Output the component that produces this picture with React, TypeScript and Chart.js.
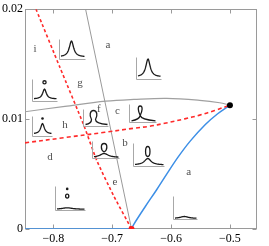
import React, { useEffect, useRef } from "react";
import { Chart, registerables } from "chart.js";
Chart.register(...registerables);

// axes
const xRange = [-0.848, -0.454];
const yRange = [0, 0.02];
const xTicks = [-0.8, -0.7, -0.6, -0.5];
const yTicks = [0, 0.01, 0.02];

// boundary curves
const blueBaseX = [-0.848, -0.6671];
const blueBaseY = [0, 0];
const blueX = [-0.6671, -0.6632, -0.6434, -0.6247, -0.6068, -0.5881, -0.5671, -0.5417, -0.5208, -0.5];
const blueY = [0, 0.00043, 0.00207, 0.00355, 0.00504, 0.00654, 0.00802, 0.00951, 0.01049, 0.01127];

const redSteepX = [-0.8293, -0.7886, -0.748, -0.7259, -0.6971, -0.6671];
const redSteepY = [0.02, 0.01469, 0.00942, 0.00621, 0.00299, 0];

const redFlatX = [-0.848, -0.7802, -0.7124, -0.6615, -0.6361, -0.6107, -0.5768, -0.5514, -0.526, -0.5];
const redFlatY = [0.00784, 0.00832, 0.0088, 0.00918, 0.00935, 0.00962, 0.01002, 0.01036, 0.01078, 0.01127];

const greyLineX = [-0.7451, -0.6671];
const greyLineY = [0.02, 0];

const greyArcX = [-0.848, -0.7802, -0.7107, -0.6632, -0.6073, -0.5514, -0.5175, -0.5];
const greyArcY = [0.01067, 0.01116, 0.01163, 0.01179, 0.01189, 0.01171, 0.01149, 0.01127];

const endPointX = [-0.5];
const endPointY = [0.01127];
const originPointX = [-0.6671];
const originPointY = [0];

// region letters
const regionLabels = ["a", "i", "g", "c", "f", "h", "b", "d", "e", "a"];
const regionX = [-0.7073, -0.831, -0.7547, -0.6912, -0.7225, -0.7802, -0.6783, -0.8056, -0.6954, -0.57];
const regionY = [0.01674, 0.01638, 0.01326, 0.01071, 0.01094, 0.00948, 0.00781, 0.00654, 0.0043, 0.0052];

// inset anchors (lower-left corner of each little frame) and the kind of profile shown
const insetKinds = ["peak", "peakRing", "peak", "knot", "bulb", "peakDot", "drop", "oval", "dots", "flat"];
const insetX = [-0.7898, -0.8366, -0.6593, -0.6712, -0.7492, -0.8356, -0.7349, -0.6654, -0.7971, -0.5966];
const insetY = [0.01543, 0.01163, 0.01362, 0.00975, 0.00936, 0.00844, 0.00647, 0.00573, 0.00177, 0.00088];

// inset frame sizes in px (layout, not data)
const INSET_W = [26, 25, 25, 27, 25, 20, 27, 31, 30, 24];
const INSET_H = [20, 22, 22, 18, 17, 20, 17, 23, 24, 23];

const pts = (xs: number[], ys: number[]) => xs.map((x, i) => ({ x, y: ys[i] }));

const fmt = (v: number) => {
  if (v === 0) return "0";
  const s = Math.abs(v).toString();
  return (v < 0 ? "\u2212" : "") + s;
};

const SERIF = "'Liberation Serif', 'Times New Roman', serif";
const FRAME = "#9a9a9a";

const framePlugin = {
  id: "frame",
  beforeDatasetsDraw(chart: any) {
    const { ctx, chartArea: a, scales } = chart;
    ctx.save();
    ctx.strokeStyle = FRAME;
    ctx.lineWidth = 1;
    const l = Math.round(a.left) + 0.5, r = Math.round(a.right) - 0.5;
    const t = Math.round(a.top) + 0.5, b = Math.round(a.bottom) - 0.5;
    ctx.strokeRect(l, t, r - l, b - t);
    ctx.beginPath();
    xTicks.forEach((v) => {
      const p = Math.round(scales.x.getPixelForValue(v)) + 0.5;
      ctx.moveTo(p, b); ctx.lineTo(p, b - 4);
      ctx.moveTo(p, t); ctx.lineTo(p, t + 4);
    });
    yTicks.forEach((v) => {
      const p = Math.round(scales.y.getPixelForValue(v)) + 0.5;
      ctx.moveTo(l, p); ctx.lineTo(l + 4, p);
      ctx.moveTo(r, p); ctx.lineTo(r - 4, p);
    });
    ctx.stroke();
    ctx.restore();
  },
};

function lorentz(ctx: CanvasRenderingContext2D, x0: number, y0: number, w: number, xc: number, base: number, amp: number, g: number) {
  ctx.beginPath();
  const n = 60;
  for (let i = 0; i <= n; i++) {
    const x = x0 + 1.5 + ((w - 2.5) * i) / n;
    const y = y0 - base - amp / (1 + ((x - xc) / g) ** 2);
    if (i === 0) ctx.moveTo(x, y); else ctx.lineTo(x, y);
  }
  ctx.stroke();
}

function drawInset(ctx: CanvasRenderingContext2D, kind: string, x0: number, y0: number, w: number, h: number) {
  ctx.save();
  ctx.strokeStyle = "#a8a8a8";
  ctx.lineWidth = 1;
  ctx.beginPath();
  ctx.moveTo(x0, y0 - h);
  ctx.lineTo(x0, y0);
  ctx.lineTo(x0 + w, y0);
  ctx.stroke();
  ctx.strokeStyle = "#1a1a1a";
  ctx.fillStyle = "#1a1a1a";
  ctx.lineWidth = 1.3;
  if (kind === "peak") {
    lorentz(ctx, x0, y0, w, x0 + 0.46 * w, 2.5, h - 4, 2.6);
  } else if (kind === "peakRing") {
    const xc = x0 + 0.48 * w;
    lorentz(ctx, x0, y0, w, xc, 2.5, 0.45 * h, 2.2);
    ctx.beginPath();
    ctx.arc(xc, y0 - 0.87 * h, 1.6, 0, Math.PI * 2);
    ctx.stroke();
  } else if (kind === "peakDot") {
    const xc = x0 + 0.5 * w;
    lorentz(ctx, x0, y0, w, xc, 2.5, 0.52 * h, 2.2);
    ctx.beginPath();
    ctx.arc(xc, y0 - 0.9 * h, 1.3, 0, Math.PI * 2);
    ctx.fill();
  } else if (kind === "knot") {
    const xc = x0 + 10.7;
    ctx.beginPath();
    ctx.moveTo(x0 + 2, y0 - 1.6);
    ctx.quadraticCurveTo(xc - 1, y0 - 3, xc, y0 - 7);
    ctx.bezierCurveTo(xc + 2, y0 - 11, xc + 3, y0 - 16.5, xc, y0 - 16.5);
    ctx.bezierCurveTo(xc - 3, y0 - 16.5, xc - 2, y0 - 11, xc, y0 - 7);
    ctx.quadraticCurveTo(xc + 1, y0 - 3, x0 + w - 1, y0 - 1.6);
    ctx.stroke();
  } else if (kind === "bulb") {
    const xc = x0 + 10;
    ctx.beginPath();
    ctx.moveTo(x0 + 2, y0 - 2);
    ctx.quadraticCurveTo(xc - 2, y0 - 3, xc - 2, y0 - 7);
    ctx.bezierCurveTo(xc - 4.5, y0 - 11, xc - 3.5, y0 - 16, xc, y0 - 16);
    ctx.bezierCurveTo(xc + 3.5, y0 - 16, xc + 4.5, y0 - 11, xc + 2, y0 - 7);
    ctx.quadraticCurveTo(xc + 2, y0 - 3, x0 + w - 1, y0 - 2);
    ctx.stroke();
  } else if (kind === "drop") {
    const xc = x0 + 11.6;
    lorentz(ctx, x0, y0, w, xc, 1, 4, 5);
    ctx.beginPath();
    ctx.moveTo(xc, y0 - 6.5);
    ctx.bezierCurveTo(xc - 3.8, y0 - 8.5, xc - 3.5, y0 - 15, xc, y0 - 15);
    ctx.bezierCurveTo(xc + 3.5, y0 - 15, xc + 3.8, y0 - 8.5, xc, y0 - 6.5);
    ctx.stroke();
  } else if (kind === "oval") {
    const xc = x0 + 0.46 * w;
    lorentz(ctx, x0, y0, w, xc, 1.5, 6.5, 4);
    ctx.beginPath();
    ctx.ellipse(xc, y0 - 15, 2.2, 5, 0, 0, Math.PI * 2);
    ctx.stroke();
  } else if (kind === "dots") {
    const xc = x0 + 0.39 * w;
    lorentz(ctx, x0, y0, w, xc, 1.2, 1.5, 6);
    ctx.beginPath();
    ctx.arc(xc, y0 - 0.9 * h, 1.3, 0, Math.PI * 2);
    ctx.fill();
    ctx.beginPath();
    ctx.ellipse(xc, y0 - 0.6 * h, 1.6, 2, 0, 0, Math.PI * 2);
    ctx.stroke();
  } else if (kind === "flat") {
    lorentz(ctx, x0, y0, w, x0 + 0.45 * w, 1, 2, 5);
  }
  ctx.restore();
}

const annotPlugin = {
  id: "annot",
  afterDatasetsDraw(chart: any) {
    const { ctx, scales } = chart;
    ctx.save();
    insetKinds.forEach((k, i) => {
      const x0 = Math.round(scales.x.getPixelForValue(insetX[i])) + 0.5;
      const y0 = Math.round(scales.y.getPixelForValue(insetY[i])) + 0.5;
      drawInset(ctx, k, x0, y0, INSET_W[i], INSET_H[i]);
    });
    ctx.font = "11px " + SERIF;
    ctx.fillStyle = "#505050";
    ctx.textAlign = "center";
    ctx.textBaseline = "middle";
    regionLabels.forEach((s, i) => {
      ctx.fillText(s, scales.x.getPixelForValue(regionX[i]), scales.y.getPixelForValue(regionY[i]));
    });
    ctx.restore();
  },
};

export default function App() {
  const ref = useRef<HTMLCanvasElement>(null);
  useEffect(() => {
    document.body.style.margin = "0";
    const line = (data: any, color: string, width: number, dash: number[] = [], tension = 0.35) => ({
      type: "scatter" as const,
      data,
      showLine: true,
      borderColor: color,
      borderWidth: width,
      borderDash: dash,
      pointRadius: 0,
      tension,
      fill: false,
    });
    const chart = new Chart(ref.current!, {
      type: "scatter",
      data: {
        datasets: [
          { type: "scatter", data: pts(endPointX, endPointY), pointRadius: 3, backgroundColor: "#000", borderColor: "#000", borderWidth: 0 } as any,
          { type: "scatter", data: pts(originPointX, originPointY), pointRadius: 3, backgroundColor: "#ff1a1a", borderColor: "#ff1a1a", borderWidth: 0 } as any,
          line(pts(redSteepX, redSteepY), "#ff2a2a", 1.6, [3, 2.5], 0.2),
          line(pts(redFlatX, redFlatY), "#ff2a2a", 1.6, [4, 3], 0.35),
          line(pts(blueBaseX, blueBaseY), "#3d8fe6", 1.5, [], 0),
          line(pts(blueX, blueY), "#3d8fe6", 1.5, [], 0.35),
          line(pts(greyLineX, greyLineY), "#9a9a9a", 1, [], 0),
          line(pts(greyArcX, greyArcY), "#a0a0a0", 1.2, [], 0.35),
        ],
      },
      options: {
        responsive: false,
        animation: false,
        devicePixelRatio: 1,
        layout: { padding: { top: 6, right: 12, left: 0, bottom: 0 } },
        plugins: { legend: { display: false }, tooltip: { enabled: false } },
        scales: {
          x: {
            type: "linear",
            min: xRange[0],
            max: xRange[1],
            grid: { display: false, drawTicks: false },
            border: { display: false },
            afterBuildTicks: (s: any) => { s.ticks = xTicks.map((v) => ({ value: v })); },
            afterFit: (s: any) => { s.height = 17; },
            ticks: {
              autoSkip: false,
              maxRotation: 0,
              padding: 3,
              color: "#000",
              font: { family: SERIF, size: 12 },
              callback: (v: any) => fmt(Number(v)),
            },
          },
          y: {
            type: "linear",
            min: yRange[0],
            max: yRange[1],
            grid: { display: false, drawTicks: false },
            border: { display: false },
            afterBuildTicks: (s: any) => { s.ticks = yTicks.map((v) => ({ value: v })); },
            afterFit: (s: any) => { s.width = 25; },
            ticks: {
              autoSkip: false,
              padding: 2,
              color: "#000",
              font: { family: SERIF, size: 12 },
              callback: (v: any) => fmt(Number(v)),
            },
          },
        },
      },
      plugins: [framePlugin, annotPlugin],
    });
    return () => chart.destroy();
  }, []);
  return <canvas ref={ref} width={269} height={246} style={{ display: "block" }} />;
}
